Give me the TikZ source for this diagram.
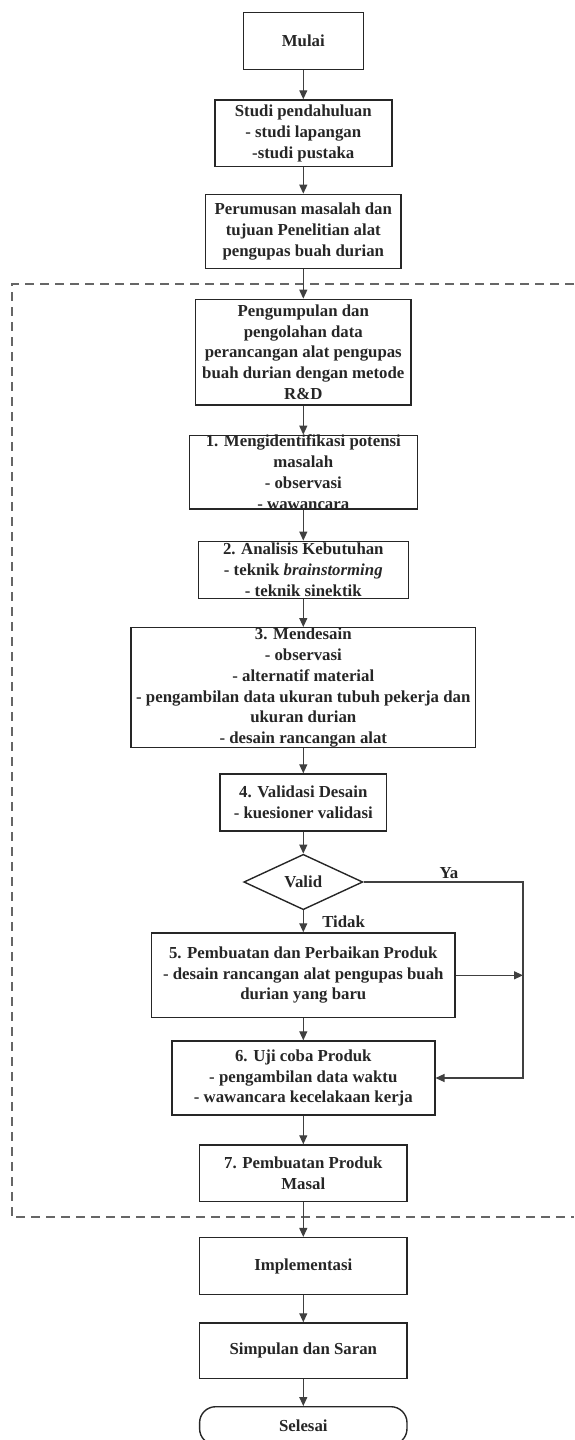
\documentclass[tikz,border=0pt]{standalone}
\usepackage{fontspec}
\setmainfont{Liberation Serif}
\usetikzlibrary{arrows.meta,shapes.geometric}
\begin{document}
\begin{tikzpicture}[x=1pt,y=-1pt,
  box/.style={draw=black!85, line width=1.4pt, inner sep=0pt},
  txt/.style={align=center, font=\fontsize{16.8}{20.7}\selectfont\bfseries, inner sep=0pt, text=black!85},
  lbl/.style={font=\fontsize{16.8}{20.7}\selectfont\bfseries, inner sep=0pt, text=black!85},
  conn/.style={draw=black!75, line width=1.2pt, -{Triangle[length=9pt,width=8pt]}},
  dashbox/.style={draw=black!60, line width=1.8pt, dash pattern=on 9pt off 6pt},
  ]
\useasboundingbox (0,0) rectangle (574,1440);

% dashed frame
\coordinate (dR1) at (574,284.3);
\coordinate (dL1) at (11.7,284.3);
\coordinate (dL2) at (11.7,1217.3);
\coordinate (dR2) at (574,1217.3);
\draw[dashbox] (dR1) -- (dL1) -- (dL2) -- (dR2);

% boxes
\node[box, minimum width=120pt, minimum height=56.7pt] (mulai) at (303.3,41) {};
\node[txt] (mulaiT) at (mulai) {Mulai};

\node[box, minimum width=177pt, minimum height=66.7pt] (studi) at (303.3,133.3) {};
\node[txt] (studiT) at (studi) {Studi pendahuluan\\- studi lapangan\\-studi pustaka};

\node[box, minimum width=195.5pt, minimum height=74.3pt] (rumus) at (303.3,231.5) {};
\node[txt] (rumusT) at (rumus) {Perumusan masalah dan\\tujuan Penelitian alat\\pengupas buah durian};

\node[box, minimum width=215.4pt, minimum height=105.7pt] (kumpul) at (303.3,352.2) {};
\node[txt] (kumpulT) at (kumpul) {Pengumpulan dan\\pengolahan data\\perancangan alat pengupas\\buah durian dengan metode\\R\&D};

\node[box, minimum width=228pt, minimum height=73.7pt] (b1) at (303.3,472.2) {};
\node[txt] (b1T) at (b1) {1. Mengidentifikasi potensi\\masalah\\- observasi\\- wawancara};

\node[box, minimum width=210pt, minimum height=57pt] (b2) at (303.3,569.8) {};
\node[txt] (b2T) at (b2) {2. Analisis Kebutuhan\\- teknik \textit{brainstorming}\\- teknik sinektik};

\node[box, minimum width=344.5pt, minimum height=120pt] (b3) at (303.3,687.7) {};
\node[txt] (b3T) at (b3) {3. Mendesain\\- observasi\\- alternatif material\\- pengambilan data ukuran tubuh pekerja dan\\ukuran durian\\- desain rancangan alat};

\node[box, minimum width=166.5pt, minimum height=57pt] (b4) at (303.3,802.5) {};
\node[txt] (b4T) at (b4) {4. Validasi Desain\\- kuesioner validasi};

\node[box, diamond, minimum width=119pt, minimum height=55.4pt] (valid) at (303.3,882) {};
\node[txt] (validT) at (valid) {Valid};

\node[box, minimum width=303.4pt, minimum height=84.7pt] (b5) at (303.3,975.3) {};
\node[txt] (b5T) at (b5) {5. Pembuatan dan Perbaikan Produk\\- desain rancangan alat pengupas buah\\durian yang baru};

\node[box, minimum width=263pt, minimum height=74pt] (b6) at (303.3,1078) {};
\node[txt] (b6T) at (b6) {6. Uji coba Produk\\- pengambilan data waktu\\- wawancara kecelakaan kerja};

\node[box, minimum width=207.4pt, minimum height=56.7pt] (b7) at (303.3,1173.3) {};
\node[txt] (b7T) at (b7) {7. Pembuatan Produk\\Masal};

\node[box, minimum width=207.4pt, minimum height=56.7pt] (impl) at (303.3,1266) {};
\node[txt] (implT) at (impl) {Implementasi};

\node[box, minimum width=207.4pt, minimum height=55.7pt] (simp) at (303.3,1350.8) {};
\node[txt] (simpT) at (simp) {Simpulan dan Saran};

\node[box, rounded corners=16pt, minimum width=207.4pt, minimum height=38pt] (sel) at (303.3,1425.7) {};
\node[txt] (selT) at (sel) {Selesai};

% labels
\node[lbl] (ya) at (449,873) {Ya};
\node[lbl] (tidak) at (343.6,921.7) {Tidak};

% connectors
\draw[conn] (mulai.south) -- (studi.north);
\draw[conn] (studi.south) -- (rumus.north);
\draw[conn] (rumus.south) -- (kumpul.north);
\draw[conn] (kumpul.south) -- (b1.north);
\draw[conn] (b1.south) -- (b2.north);
\draw[conn] (b2.south) -- (b3.north);
\draw[conn] (b3.south) -- (b4.north);
\draw[conn] (b4.south) -- (valid.north);
\draw[conn] (valid.south) -- (b5.north);
\draw[conn] (b5.south) -- (b6.north);
\draw[conn] (b6.south) -- (b7.north);
\draw[conn] (b7.south) -- (impl.north);
\draw[conn] (impl.south) -- (simp.north);
\draw[conn] (simp.south) -- (sel.north);

\coordinate (yaR) at (523,882);
\draw[conn] (valid.east) -- (yaR) |- (b6.east);
\draw[conn] (b5.east) -- (b5.east -| yaR);
\end{tikzpicture}
\end{document}
